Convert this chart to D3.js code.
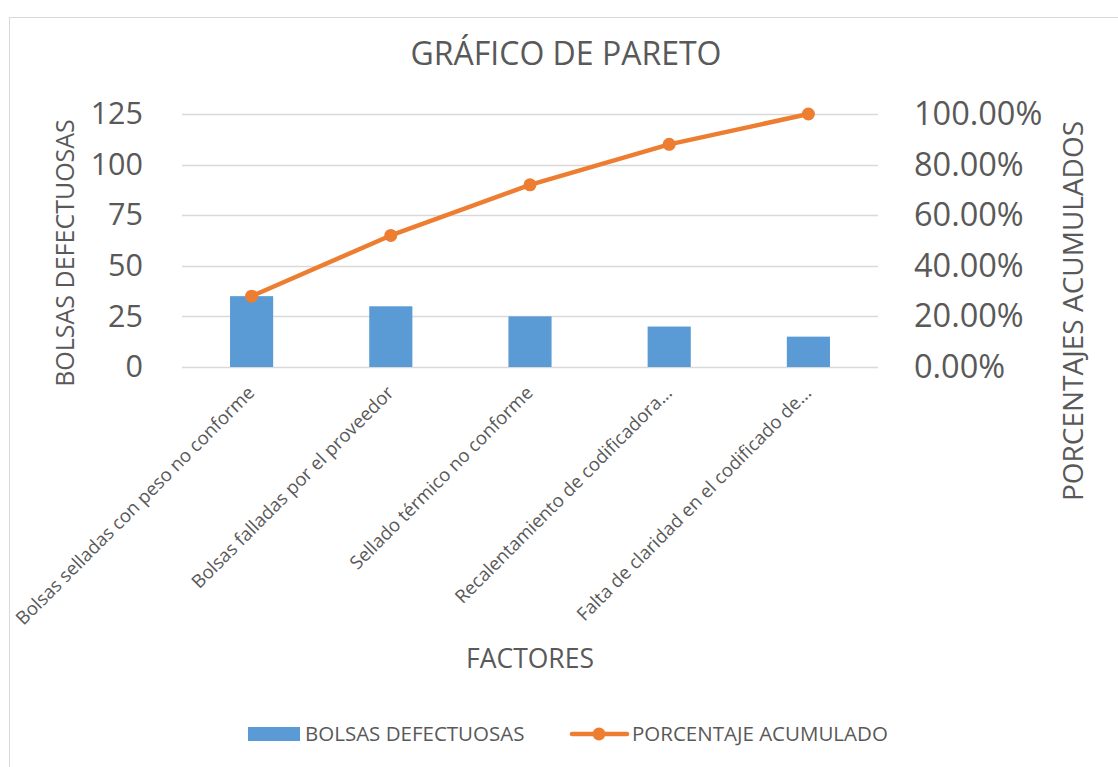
<!DOCTYPE html>
<html>
<head>
<meta charset="utf-8">
<script src="https://cdn.jsdelivr.net/npm/d3@7"></script>
<style>
	body { margin: 0; background: #ffffff; }
	svg { display: block; font-family: "Open Sans", sans-serif; }
</style>
</head>
<body>
<svg id="canvas" width="1118" height="767"></svg>
<script>
var factores = [
	"Bolsas selladas con peso no conforme",
	"Bolsas falladas por el proveedor",
	"Sellado térmico no conforme",
	"Recalentamiento de codificadora...",
	"Falta de claridad en el codificado de..."
];
var bolsas = [35, 30, 25, 20, 15];
var acumulado = [0.28, 0.52, 0.72, 0.88, 1.00];
var leftTicks = [0, 25, 50, 75, 100, 125];
var rightTicks = [0, 0.2, 0.4, 0.6, 0.8, 1.0];

var blue = "#5b9bd5";
var orange = "#ed7d31";
var grey = "#595959";

function draw(){
	var svg = d3.select("#canvas");
	var left = 182, right = 878, top = 114, bottom = 367;

	// chart border (runs off the right/bottom edge like the picture)
	svg.append("rect")
		.attr("x", 9.5).attr("y", 17.5)
		.attr("width", 1300).attr("height", 900)
		.attr("fill", "#fff")
		.attr("stroke", "#d9d9d9");

	var x = d3.scaleBand()
		.domain(factores)
		.range([left, right])
		.paddingInner(0.69)
		.paddingOuter(0.345);
	var y = d3.scaleLinear().domain([0, 125]).range([bottom, top]);
	var y2 = d3.scaleLinear().domain([0, 1]).range([bottom, top]);

	// grid
	svg.append("g")
		.selectAll("line")
		.data(leftTicks)
		.enter()
		.append("line")
		.attr("x1", left).attr("x2", right)
		.attr("y1", function(d){ return Math.round(y(d)) + 0.5; })
		.attr("y2", function(d){ return Math.round(y(d)) + 0.5; })
		.attr("stroke", "#d9d9d9")
		.attr("stroke-width", 1.3);

	// left axis
	var yAxis = svg.append("g")
		.attr("transform", "translate(" + (left - 39) + ",0)")
		.call(d3.axisLeft(y).tickValues(leftTicks).tickSize(0).tickPadding(0));
	yAxis.select(".domain").remove();
	yAxis.selectAll("text")
		.attr("fill", grey)
		.style("font-size", "30.5px")
		.style("font-family", "Open Sans");

	// right axis
	var yAxis2 = svg.append("g")
		.attr("transform", "translate(" + (right + 36) + ",0)")
		.call(d3.axisRight(y2).tickValues(rightTicks).tickSize(0).tickPadding(0)
			.tickFormat(d3.format(".2%")));
	yAxis2.select(".domain").remove();
	yAxis2.selectAll("text")
		.attr("fill", grey)
		.style("font-size", "32.5px")
		.style("font-family", "Open Sans");

	// bars
	svg.append("g")
		.selectAll("rect")
		.data(bolsas)
		.enter()
		.append("rect")
		.attr("x", function(d, i){ return x(factores[i]); })
		.attr("y", function(d){ return y(d); })
		.attr("width", x.bandwidth())
		.attr("height", function(d){ return y(0) - y(d); })
		.attr("fill", blue);

	// cumulative line
	var cx = function(i){ return x(factores[i]) + x.bandwidth() / 2; };
	var line = d3.line()
		.x(function(d, i){ return cx(i); })
		.y(function(d){ return y2(d); });
	svg.append("path")
		.datum(acumulado)
		.attr("d", line)
		.attr("fill", "none")
		.attr("stroke", orange)
		.attr("stroke-width", 4.5)
		.attr("stroke-linejoin", "round")
		.attr("stroke-linecap", "round");
	svg.append("g")
		.selectAll("circle")
		.data(acumulado)
		.enter()
		.append("circle")
		.attr("cx", function(d, i){ return cx(i); })
		.attr("cy", function(d){ return y2(d); })
		.attr("r", 6.5)
		.attr("fill", orange);

	// category labels, rotated
	svg.append("g")
		.selectAll("text")
		.data(factores)
		.enter()
		.append("text")
		.attr("transform", function(d, i){
			return "translate(" + (cx(i) + 4) + "," + (bottom + 27) + ") rotate(-45)";
		})
		.attr("text-anchor", "end")
		.attr("fill", grey)
		.style("font-size", "18.5px")
		.text(function(d){ return d; });

	// titles
	svg.append("text")
		.attr("x", 566).attr("y", 65)
		.attr("text-anchor", "middle")
		.attr("fill", grey)
		.style("font-size", "32px")
		.text("GRÁFICO DE PARETO");

	svg.append("text")
		.attr("x", (left + right) / 2).attr("y", 668)
		.attr("text-anchor", "middle")
		.attr("fill", grey)
		.style("font-size", "26.5px")
		.text("FACTORES");

	svg.append("text")
		.attr("transform", "translate(74,253) rotate(-90)")
		.attr("text-anchor", "middle")
		.attr("fill", grey)
		.style("font-size", "25px")
		.text("BOLSAS DEFECTUOSAS");

	svg.append("text")
		.attr("transform", "translate(1083,311) rotate(-90)")
		.attr("text-anchor", "middle")
		.attr("fill", grey)
		.style("font-size", "28px")
		.text("PORCENTAJES ACUMULADOS");

	// legend
	var legend = svg.append("g");
	legend.append("rect")
		.attr("x", 248).attr("y", 727)
		.attr("width", 52).attr("height", 14)
		.attr("fill", blue);
	legend.append("text")
		.attr("x", 305).attr("y", 741)
		.attr("fill", grey)
		.style("font-size", "20.5px")
		.text("BOLSAS DEFECTUOSAS");
	legend.append("line")
		.attr("x1", 572).attr("x2", 627)
		.attr("y1", 734).attr("y2", 734)
		.attr("stroke", orange)
		.attr("stroke-width", 4.5)
		.attr("stroke-linecap", "round");
	legend.append("circle")
		.attr("cx", 599).attr("cy", 734)
		.attr("r", 6.5)
		.attr("fill", orange);
	legend.append("text")
		.attr("x", 632).attr("y", 741)
		.attr("fill", grey)
		.style("font-size", "20.5px")
		.text("PORCENTAJE ACUMULADO");
}

draw();
</script>
</body>
</html>
